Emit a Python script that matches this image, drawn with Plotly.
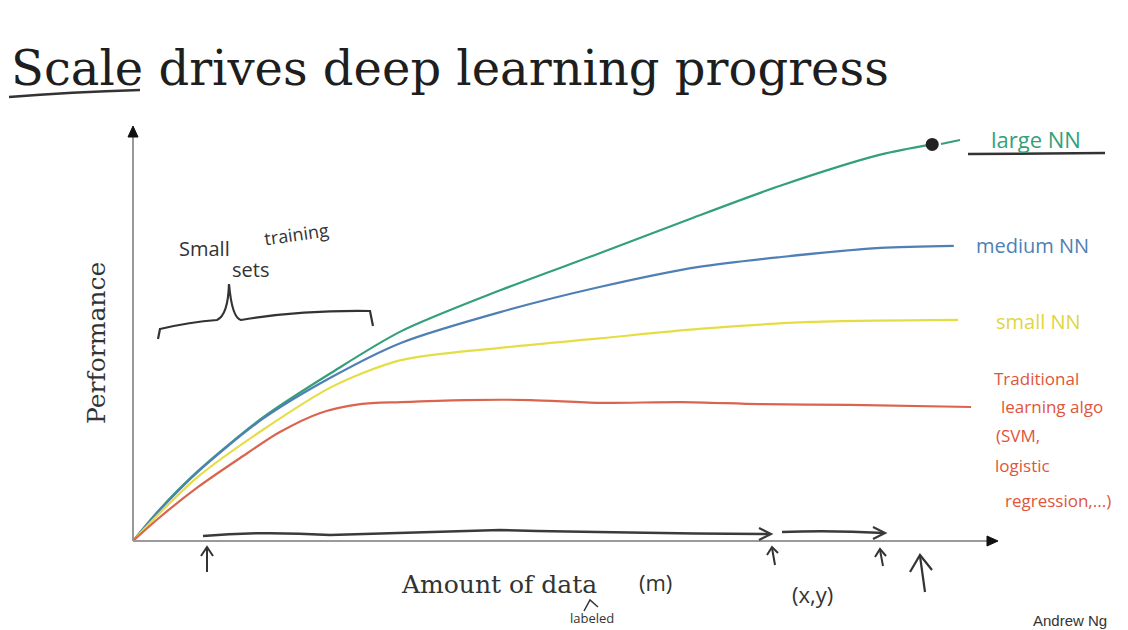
import plotly.graph_objects as go

# page offset: the html body has an 8px margin, so the figure is 8px smaller
OFF = 8
W, H = 1128 - OFF, 630 - OFF

# ---- data: amount of data (0-100) vs performance (0-100) ----
large_x = [0, 3, 7.5, 15, 23, 31, 42.5, 54, 64, 75, 86.5, 92.5]
large_y = [0, 7.5, 17, 30, 41, 51, 61, 70, 78, 86.5, 94, 96.5]
medium_x = [0, 3, 7.5, 15, 23, 31, 42.5, 54, 65.5, 75, 86.5, 95]
medium_y = [0, 7.3, 16.8, 29.7, 39.9, 48.2, 55.7, 61.8, 66.7, 69.1, 71.3, 71.8]
small_x = [0, 3, 7.5, 15, 23, 31, 42.5, 54, 65.5, 78.5, 95.5]
small_y = [0, 6.6, 15.6, 27, 37.5, 44, 47, 49.3, 51.6, 53.3, 53.8]
trad_x = [0, 3, 7.5, 12.4, 17, 21.6, 26.3, 31, 38.5, 46, 54, 63.5, 72.5, 83, 97]
trad_y = [0, 5.6, 13.1, 20.2, 26.5, 31.1, 33.3, 33.8, 34.3, 34.3, 33.6, 33.8, 33.3, 33.1, 32.6]

series_names = ["large NN", "medium NN", "small NN", "Traditional learning algo"]
colors = ["#34a07a", "#4f7fb4", "#e6dd45", "#d9654f"]

fig = go.Figure()
for name, xs, ys, c in zip(series_names,
                           [large_x, medium_x, small_x, trad_x],
                           [large_y, medium_y, small_y, trad_y], colors):
    fig.add_trace(go.Scatter(x=xs, y=ys, mode="lines", name=name,
                             line=dict(color=c, width=2.2, shape="spline", smoothing=0.8),
                             xaxis="x", yaxis="y", showlegend=False, hoverinfo="skip"))
# dot at end of large NN curve
fig.add_trace(go.Scatter(x=[large_x[-1]], y=[large_y[-1]], mode="markers",
                         marker=dict(color="#222", size=13), showlegend=False,
                         xaxis="x", yaxis="y", hoverinfo="skip"))
# invisible trace to activate the canvas overlay axes
fig.add_trace(go.Scatter(x=[100], y=[100], mode="markers", marker=dict(opacity=0),
                         xaxis="x2", yaxis="y2", showlegend=False, hoverinfo="skip"))

shapes = []
def path(d, color="#3a3a3a", width=2.5):
    shapes.append(dict(type="path", path=d, xref="x2", yref="y2",
                       line=dict(color=color, width=width)))

def filled(d, color="#111"):
    shapes.append(dict(type="path", path=d, xref="x2", yref="y2",
                       line=dict(color=color, width=1), fillcolor=color))

# axes
path("M133,541 L133,134", color="#8e8e8e", width=1.8)
path("M133,541 L992,541", color="#9a9a9a", width=1.8)
filled("M133,126 L128,137 L138,137 Z")
filled("M998,541 L987,536 L987,546 Z")

# title underline
path("M9,97 Q70,92 140,90", color="#333", width=2.5)
# large NN underline
path("M968,154 L1105,153", color="#333", width=2.5)
# short green dash from dot to label
path("M941,144 L960,140", color="#34a07a", width=2)
# brace
path("M158,339 L160,329 Q190,322 217,320 Q228,315 229,284 Q232,318 241,320 "
     "Q300,310 370,311 L373,326", color="#333", width=2.2)
# arrows along x axis
path("M203,536 Q260,531 330,535 Q420,532 500,530 Q620,533 769,534", color="#3a3a3a", width=2.5)
path("M759,528 L771,534 L759,540", color="#3a3a3a", width=2.2)
path("M782,532 Q830,530 884,533", color="#3a3a3a", width=2.5)
path("M873,527 L885,533 L873,539", color="#3a3a3a", width=2.2)
# up arrows
path("M207,572 L207,548", color="#333", width=2)
path("M201,556 L207,547 L213,556", color="#333", width=2)
path("M775,565 L772,548", color="#333", width=2)
path("M767,555 L772,547 L778,553", color="#333", width=2)
path("M883,566 L880,550", color="#333", width=2)
path("M875,557 L880,549 L886,556", color="#333", width=2)
path("M925,592 L920,556", color="#333", width=2.2)
path("M910,572 L920,555 L932,570", color="#333", width=2.2)
# hat above "labeled"
path("M584,611 L590,600 L598,607", color="#333", width=1.5)

ann = []
def text(t, x, y, size, color="#333", family="Open Sans, sans-serif", xanchor="center",
         yanchor="middle", angle=0):
    ann.append(dict(text=t, x=x, y=y, xref="x2", yref="y2", showarrow=False,
                    font=dict(size=size, color=color, family=family),
                    xanchor=xanchor, yanchor=yanchor, textangle=angle))

serif = "DejaVu Serif, serif"
text("Scale drives deep learning progress", 9, 68, 48, "#1e1e1e", serif, xanchor="left")
text("Performance", 96, 343, 25, "#333", serif, angle=-90)
text("Amount of data", 499, 584, 25, "#333", serif)
text("(m)", 655, 582, 22, "#333")
text("(x,y)", 812, 594, 22, "#333")
text("labeled", 592, 618, 13, "#333")
text("Andrew Ng", 1070, 620, 15, "#333", "Liberation Sans, sans-serif")
text("Small", 204, 248, 20, "#333")
text("training", 296, 234, 18, "#333", angle=-8)
text("sets", 250, 269, 20, "#333")
text("large NN", 1036, 139, 22, "#34a07a")
text("medium NN", 1032, 245, 20, "#4f7fb4")
text("small NN", 1038, 321, 20, "#e0d640")
red = "#e0553a"
text("Traditional", 1036, 378, 17, red)
text("learning algo", 1052, 406, 17, red)
text("(SVM,", 1018, 435, 17, red)
text("logistic", 1022, 465, 17, red)
text("regression,...)", 1058, 500, 17, red)

# page-pixel frame of the data area
px0, px1, py_bottom, py_top = 133, 997, 541, 130
fig.update_layout(
    width=W, height=H, margin=dict(l=0, r=0, t=0, b=0),
    paper_bgcolor="white", plot_bgcolor="rgba(0,0,0,0)",
    xaxis=dict(domain=[(px0 - OFF) / W, (px1 - OFF) / W], range=[0, 100], visible=False, anchor="y"),
    yaxis=dict(domain=[(H + OFF - py_bottom) / H, (H + OFF - py_top) / H], range=[0, 100],
               visible=False, anchor="x"),
    xaxis2=dict(domain=[0, 1], range=[OFF, OFF + W], visible=False, anchor="y2"),
    yaxis2=dict(domain=[0, 1], range=[OFF + H, OFF], visible=False, anchor="x2"),
    shapes=shapes, annotations=ann,
)
fig.write_html("out.html")
